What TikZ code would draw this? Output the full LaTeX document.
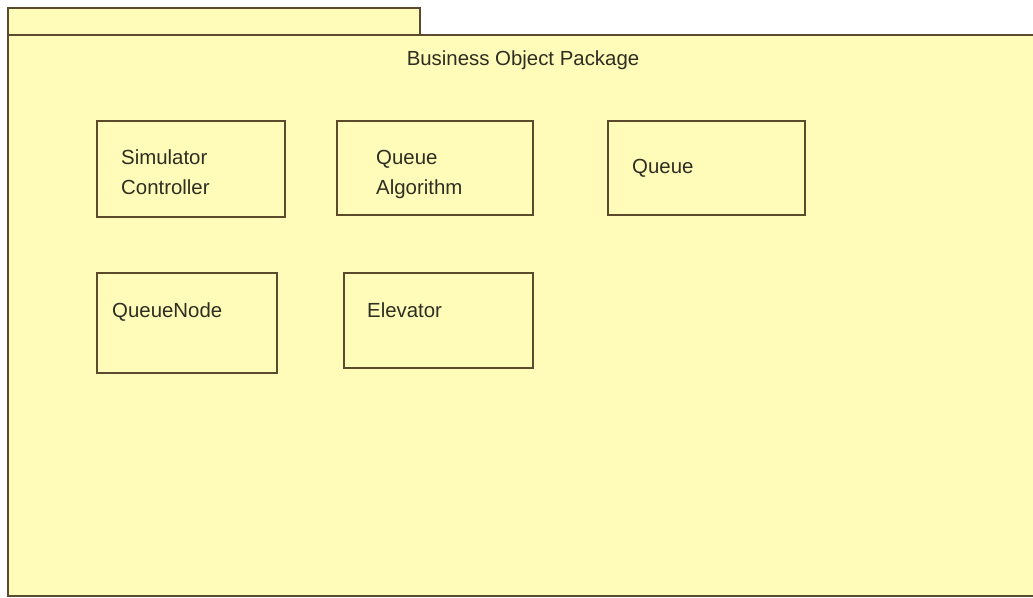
\documentclass[tikz,border=0pt]{standalone}
\usepackage{fontspec}
\setmainfont{Liberation Sans}
\definecolor{pkgfill}{HTML}{FFFBB8}
\definecolor{pkgline}{HTML}{5C4A2E}
\definecolor{txt}{HTML}{2E2E22}
\begin{document}
\begin{tikzpicture}[x=1pt,y=-1pt,
  pkg/.style={draw=pkgline,fill=pkgfill,line width=2.2pt},
  cls/.style={draw=pkgline,fill=pkgfill,line width=2.2pt,inner sep=0pt,anchor=north west},
  lbl/.style={text=txt,inner sep=0pt,anchor=base west,align=left,font=\fontsize{20.4}{30}\selectfont}]
\useasboundingbox (0,0) rectangle (1033,597);
\fill[white] (0,0) rectangle (1033,597);
% package tab and body
\draw[pkg] (8,8) rectangle (420,35);
\draw[pkg] (8,35) rectangle (1045,596);
\node[lbl,anchor=base] (title) at (523,65) {Business Object Package};
% classes
\node[cls,minimum width=188pt,minimum height=96pt] (sc) at (96,120) {};
\node[lbl] (sct) at (121,194) {Simulator\\Controller};
\node[cls,minimum width=196pt,minimum height=94pt] (qa) at (336,120) {};
\node[lbl] (qat) at (376,194) {Queue\\Algorithm};
\node[cls,minimum width=197pt,minimum height=94pt] (q) at (607,120) {};
\node[lbl] (qt) at (632,173) {Queue};
\node[cls,minimum width=180pt,minimum height=100pt] (qn) at (96,272) {};
\node[lbl] (qnt) at (112,317) {QueueNode};
\node[cls,minimum width=189pt,minimum height=95pt] (el) at (343,272) {};
\node[lbl] (elt) at (367,317) {Elevator};
\end{tikzpicture}
\end{document}
